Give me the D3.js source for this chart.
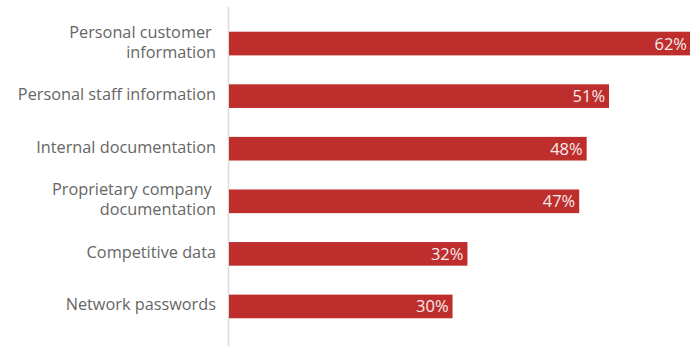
<!DOCTYPE html>
<html>
<head>
<meta charset="utf-8">
<script src="https://cdn.jsdelivr.net/npm/d3@7"></script>
<style>
  html, body { margin: 0; padding: 0; background: #fff; }
  svg { display: block; }
</style>
</head>
<body>
<svg id="chart" width="690" height="346"></svg>
<script>
// Data
const categories = [
  ["Personal customer ", "information"],
  ["Personal staff information"],
  ["Internal documentation"],
  ["Proprietary company ", "documentation"],
  ["Competitive data"],
  ["Network passwords"]
];
const values = [62, 51, 48, 47, 32, 30];
const valueLabels = ["62%", "51%", "48%", "47%", "32%", "30%"];

const W = 690, H = 346;
const margin = { left: 229, right: 0, top: 17, bottom: 13 };
const svg = d3.select("#chart");
const font = "'Open Sans', sans-serif";

const y = d3.scaleBand()
  .domain(d3.range(categories.length))
  .range([margin.top, H - margin.bottom])
  .paddingInner(0.55)
  .paddingOuter(0.28);

const x = d3.scaleLinear()
  .domain([0, 62])
  .range([margin.left, 691]);

// Vertical baseline axis
svg.append("line")
  .attr("x1", margin.left - 0.5).attr("x2", margin.left - 0.5)
  .attr("y1", 7).attr("y2", H)
  .attr("stroke", "#dcdcdc").attr("stroke-width", 1.5);

// Bars
svg.selectAll("rect.bar")
  .data(values)
  .join("rect")
  .attr("class", "bar")
  .attr("x", x(0))
  .attr("y", (d, i) => y(i))
  .attr("width", d => x(d) - x(0))
  .attr("height", y.bandwidth())
  .attr("fill", "#bd2e2c");

// Value labels inside bar ends
svg.selectAll("text.val")
  .data(values)
  .join("text")
  .attr("class", "val")
  .attr("x", d => x(d) - 4)
  .attr("y", (d, i) => y(i) + y.bandwidth() / 2 + 6)
  .attr("text-anchor", "end")
  .attr("font-family", font)
  .attr("font-size", "16.5px")
  .attr("fill", "#f7ecec")
  .text((d, i) => valueLabels[i]);

// Category labels
const lineH = 20;
const labels = svg.selectAll("text.cat")
  .data(categories)
  .join("text")
  .attr("class", "cat")
  .attr("text-anchor", "end")
  .attr("font-family", font)
  .attr("font-size", "16.3px")
  .attr("fill", "#666666")
  .style("white-space", "pre");

labels.each(function(lines, i) {
  const cy = y(i) + y.bandwidth() / 2;
  const first = cy + 4 - (lines.length - 1) * lineH / 2;
  d3.select(this).selectAll("tspan")
    .data(lines)
    .join("tspan")
    .attr("x", 216)
    .attr("y", (d, j) => first + j * lineH)
    .text(d => d);
});
</script>
</body>
</html>
